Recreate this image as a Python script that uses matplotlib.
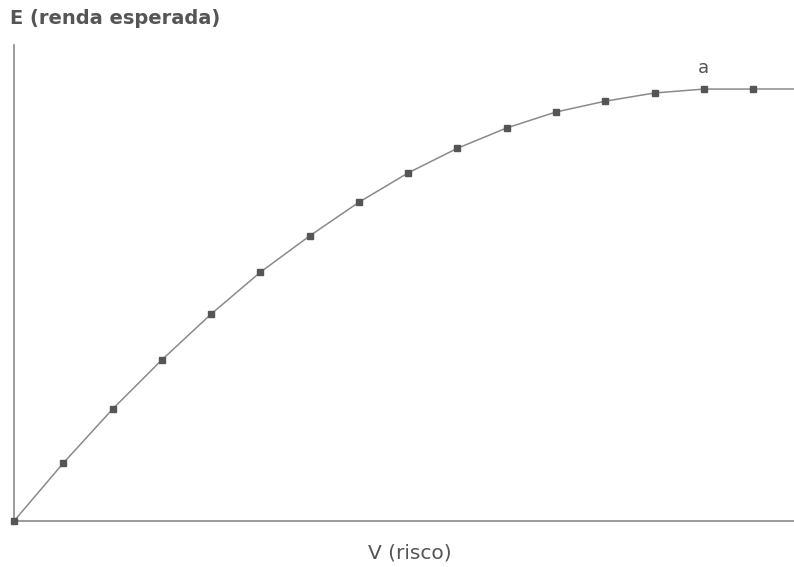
import matplotlib
matplotlib.use("Agg")
import matplotlib.pyplot as plt

# Data (risk V vs expected return E, arbitrary units)
risk = [0, 1, 2, 3, 4, 5, 6, 7, 8, 9, 10, 11, 12, 13, 14, 15]
expected = [0, 13.4, 25.9, 37.3, 47.9, 57.6, 66.0, 73.8, 80.6, 86.3,
            91.0, 94.7, 97.2, 99.1, 100, 100]
x_label = "V (risco)"
y_label = "E (renda esperada)"
point_label = "a"
point_index = 14

fig = plt.figure(figsize=(7.94, 5.67), dpi=100)
ax = fig.add_axes([0.0176, 0.0811, 0.9824, 0.8395])
xmax = 15.83
ax.set_xlim(0, xmax)
ax.set_ylim(0, 110.2)

line_c = "#8a8a8a"
mark_c = "#555555"
ax.plot(risk, expected, color=line_c, lw=1.1, zorder=2)
ax.plot([risk[-1], xmax], [expected[-1], expected[-1]], color=line_c, lw=1.1, zorder=2)
ax.plot(risk, expected, ls="none", marker="s", ms=3.8, color=mark_c, zorder=3,
        clip_on=False)

for s in ["top", "right"]:
    ax.spines[s].set_visible(False)
for s in ["left", "bottom"]:
    ax.spines[s].set_color(line_c)
    ax.spines[s].set_linewidth(1.2)
ax.set_xticks([])
ax.set_yticks([])
ax.patch.set_alpha(0)

ax.annotate(point_label, (risk[point_index], expected[point_index]),
            xytext=(0, 9), textcoords="offset points", ha="center", va="bottom",
            fontsize=13, color="#555555")

fig.text(10/794, 1 - 18/567, y_label, ha="left", va="center", fontsize=14,
         color="#555555", fontweight="semibold")
fig.text(410/794, 1 - 553/567, x_label, ha="center", va="center", fontsize=14.5,
         color="#555555", fontweight="medium")

fig.savefig("out.png", dpi=100)
